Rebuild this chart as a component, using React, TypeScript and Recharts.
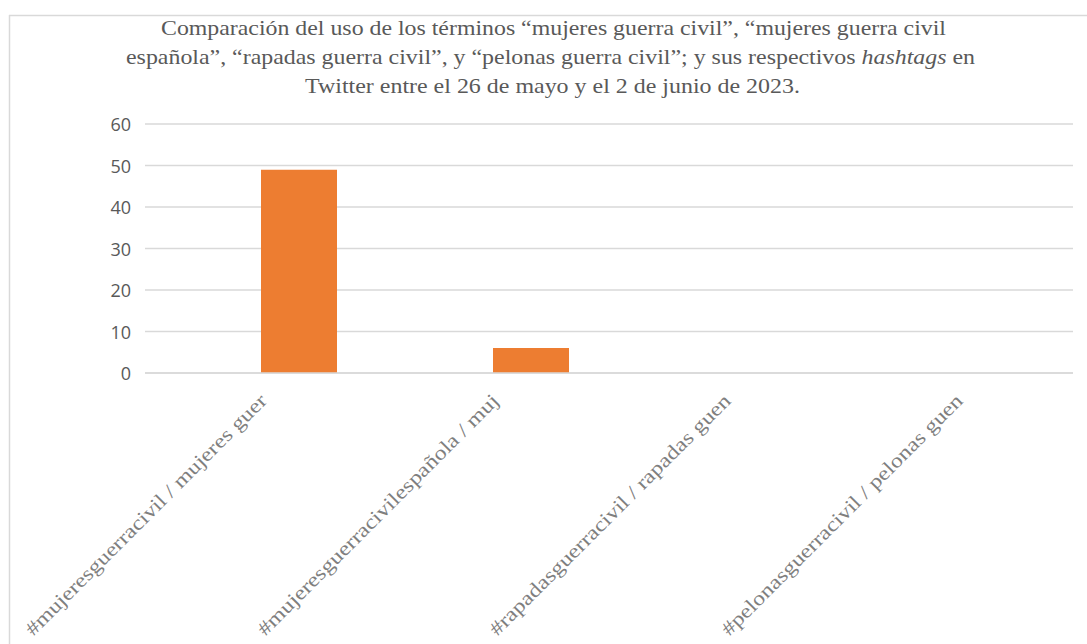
import React from 'react';
import { BarChart, Bar, XAxis, YAxis, CartesianGrid } from 'recharts';

const categories = [
  '#mujeresguerracivil / mujeres guer',
  '#mujeresguerracivilespañola / muj',
  '#rapadasguerracivil / rapadas guen',
  '#pelonasguerracivil / pelonas guen',
];
const hashtagValues = [0, 0, 0, 0];
const termValues = [49, 6, 0, 0];
const yTicks = [0, 10, 20, 30, 40, 50, 60];

const titleLine1 = 'Comparación del uso de los términos “mujeres guerra civil”, “mujeres guerra civil';
const titleLine2a = 'española”, “rapadas guerra civil”, y “pelonas guerra civil”; y sus respectivos ';
const titleLine2b = 'hashtags';
const titleLine2c = ' en';
const titleLine3 = 'Twitter entre el 26 de mayo y el 2 de junio de 2023.';

const data = categories.map((c, i) => ({ name: c, hashtag: hashtagValues[i], term: termValues[i] }));

const SERIF = '"Liberation Serif", "DejaVu Serif", serif';

const YTick = (props: any) => {
  const { y, payload } = props;
  return (
    <text x={131} y={y} textAnchor="end" dominantBaseline="central" fill="#595959"
      style={{ fontFamily: '"Open Sans", sans-serif', fontSize: 18 }}>
      {payload.value}
    </text>
  );
};

const XTick = (props: any) => {
  const { x, payload } = props;
  const tx = x + 7;
  const ty = 402;
  return (
    <text x={tx} y={ty} textAnchor="end" transform={`rotate(-45 ${tx} ${ty})`} fill="#7f7f7f"
      style={{ fontFamily: SERIF, fontSize: 20 }}
      textLength={332} lengthAdjust="spacingAndGlyphs">
      {payload.value}
    </text>
  );
};

export default function App() {
  const titleStyle = { fontFamily: SERIF, fontSize: 21 };
  return (
    <div style={{ position: 'absolute', left: 0, top: 0, width: 1087, height: 644, background: '#fff' }}>
      <BarChart width={1087} height={644} data={data}
        margin={{ top: 124, right: 14, left: 0, bottom: 0 }}
        barCategoryGap={40} barGap={0}>
        <CartesianGrid vertical={false} stroke="#d9d9d9" strokeWidth={1.5} />
        <XAxis dataKey="name" height={271} interval={0} tickLine={false}
          axisLine={{ stroke: '#d9d9d9', strokeWidth: 1.5 }} tick={<XTick />} />
        <YAxis width={145} domain={[0, 60]} ticks={yTicks} axisLine={false} tickLine={false}
          tick={<YTick />} interval={0} />
        <Bar dataKey="hashtag" fill="#4472C4" isAnimationActive={false} />
        <Bar dataKey="term" fill="#ED7D31" isAnimationActive={false} />
      </BarChart>
      <svg width={1087} height={644} style={{ position: 'absolute', left: 0, top: 0, pointerEvents: 'none' }}>
        <line x1={9} y1={15.5} x2={1087} y2={15.5} stroke="#d9d9d9" strokeWidth={1.5} />
        <line x1={9.5} y1={15} x2={9.5} y2={644} stroke="#d9d9d9" strokeWidth={1.5} />
        <text x={161} y={35} fill="#595959" style={titleStyle} textLength={785} lengthAdjust="spacingAndGlyphs">{titleLine1}</text>
        <text x={126} y={64} fill="#595959" style={titleStyle} textLength={849} lengthAdjust="spacingAndGlyphs">
          {titleLine2a}<tspan style={{ fontStyle: 'italic' }}>{titleLine2b}</tspan>{titleLine2c}
        </text>
        <text x={305} y={93} fill="#595959" style={titleStyle} textLength={495} lengthAdjust="spacingAndGlyphs">{titleLine3}</text>
      </svg>
    </div>
  );
}
